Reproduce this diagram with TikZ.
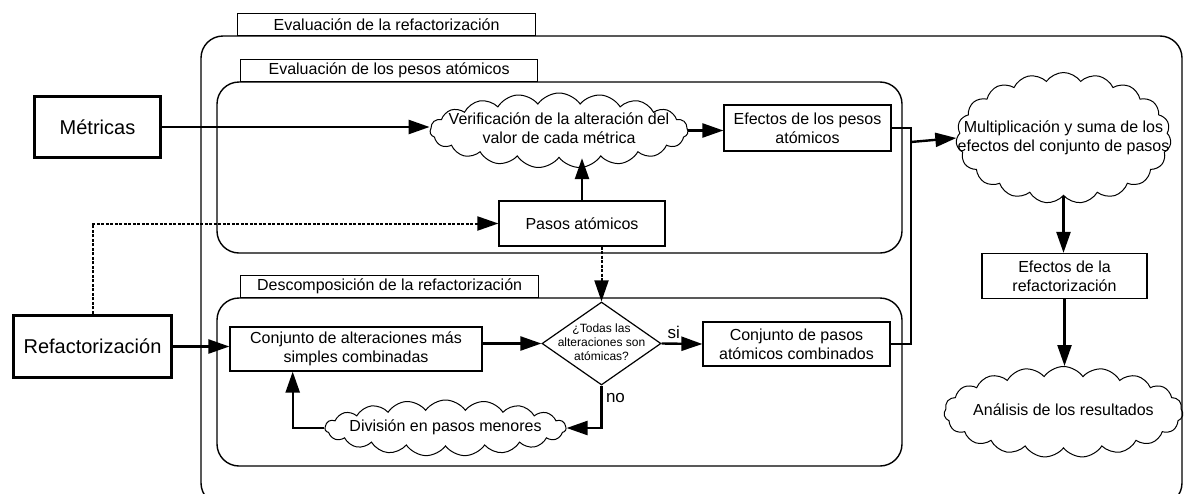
\documentclass[tikz,border=0pt]{standalone}
\usepackage{fontspec}
\setmainfont{Liberation Sans}
\usetikzlibrary{shapes.symbols, shapes.geometric, arrows.meta, calc}

% text that does not size the shape round it
\newcommand{\ctext}[1]{\makebox[0pt]{\begin{tabular}{@{}c@{}}#1\end{tabular}}}

\begin{document}
\begin{tikzpicture}[x=1pt, y=-1pt,
    every node/.style={font=\fontsize{16}{19}\selectfont},
    box/.style={draw, line width=1.2pt, inner sep=0pt, align=center},
    heavybox/.style={draw, line width=3.5pt, inner sep=0pt, font=\fontsize{20}{24}\selectfont},
    tab/.style={draw, line width=1.2pt, inner sep=0pt, fill=white, minimum height=22pt, anchor=south west},
    region/.style={line width=1.4pt, rounded corners=22pt},
    puff/.style={draw, cloud, cloud puffs=19, cloud puff arc=110, cloud ignores aspect, inner sep=0pt, line width=1pt},
    decision/.style={draw, diamond, line width=1.2pt, inner sep=0pt, font=\fontsize{12}{14}\selectfont},
    arr/.style={line width=2.4pt, -{Triangle[length=21pt, width=14pt]}},
    dotarr/.style={arr, line width=2pt, dash pattern=on 3pt off 1.5pt},
    link/.style={line width=2pt},
    lbl/.style={font=\fontsize{17}{20}\selectfont},
  ]
  \useasboundingbox (0,0) rectangle (1184,493);

  % regions
  \draw[region] (201,36) rectangle (1182,505);
  \draw[region] (217,82) rectangle (902,253);
  \draw[region] (217,298) rectangle (902,466);

  \node[tab, minimum width=298pt] (tabeval) at (237,36) {Evaluación de la refactorización};
  \node[tab, minimum width=297pt] (tabpesos) at (240,82) {Evaluación de los pesos atómicos};
  \node[tab, minimum width=298pt] (tabdesc) at (240,298) {Descomposición de la refactorización};

  % inputs
  \node[heavybox, minimum width=126pt, minimum height=61pt] (metricas) at (97.5,127) {Métricas};
  \node[heavybox, minimum width=158pt, minimum height=62pt] (refact) at (92.5,346.5) {Refactorización};

  % atomic weights
  \node[puff, minimum width=258pt, minimum height=75pt] (verif) at (559,130.5)
    {\ctext{Verificación de la alteración del\\valor de cada métrica}};
  \node[box, minimum width=167pt, minimum height=46pt] (efpesos) at (807.5,128) {Efectos de los pesos\\atómicos};
  \node[box, minimum width=166pt, minimum height=45pt] (pasos) at (582,223.5) {Pasos atómicos};

  % decomposition
  \node[box, minimum width=252pt, minimum height=44pt] (conjalt) at (356,349) {Conjunto de alteraciones más\\simples combinadas};
  \node[decision, minimum width=119pt, minimum height=83pt] (decision) at (601.5,343.5)
    {\ctext{¿Todas las\\alteraciones son\\atómicas?}};
  \node[box, minimum width=187pt, minimum height=44pt] (conjpasos) at (796.5,344) {Conjunto de pasos\\atómicos combinados};
  \node[puff, minimum width=241pt, minimum height=56pt] (division) at (445.5,428)
    {\ctext{División en pasos menores}};

  % result
  \node[puff, minimum width=215pt, minimum height=131pt] (multi) at (1063.5,138)
    {\ctext{Multiplicación y suma de los\\efectos del conjunto de pasos}};
  \node[box, minimum width=165pt, minimum height=45pt] (efrefact) at (1064.5,276) {Efectos de la\\refactorización};
  \node[puff, minimum width=239pt, minimum height=91pt] (analisis) at (1063.5,412)
    {\ctext{Análisis de los resultados}};

  % connectors
  \draw[arr] (metricas.east) -- (metricas.east -| verif.west);
  \draw[arr] (verif.east) -- (verif.east -| efpesos.west);
  \draw[arr] (pasos.north) -- (pasos.north |- verif.south);
  \draw[dotarr] (refact.north) |- (pasos.west);
  \draw[dotarr] (pasos.south -| decision.north) -- (decision.north);

  \draw[arr] (refact.east) -- (refact.east -| conjalt.west);
  \draw[arr] (conjalt.east |- decision.west) -- (decision.west);
  \draw[arr] (decision.east) -- node[lbl, pos=0.3, above] (si) {si} (conjpasos.west);
  \draw[arr] (decision.south) |- node[lbl, pos=0.15, right] (no) {no} (division.east);
  \draw[arr] (division.west) -| ($(conjalt.south west)!0.25!(conjalt.south east)$);

  \coordinate (merge) at (911,142);
  \draw[link] (efpesos.east) -| (merge) |- (conjpasos.east);
  \draw[arr] (merge) -- (multi.west);
  \draw[arr] (multi.south) -- (multi.south |- efrefact.north);
  \draw[arr] (efrefact.south) -- (efrefact.south |- analisis.north);
\end{tikzpicture}
\end{document}
